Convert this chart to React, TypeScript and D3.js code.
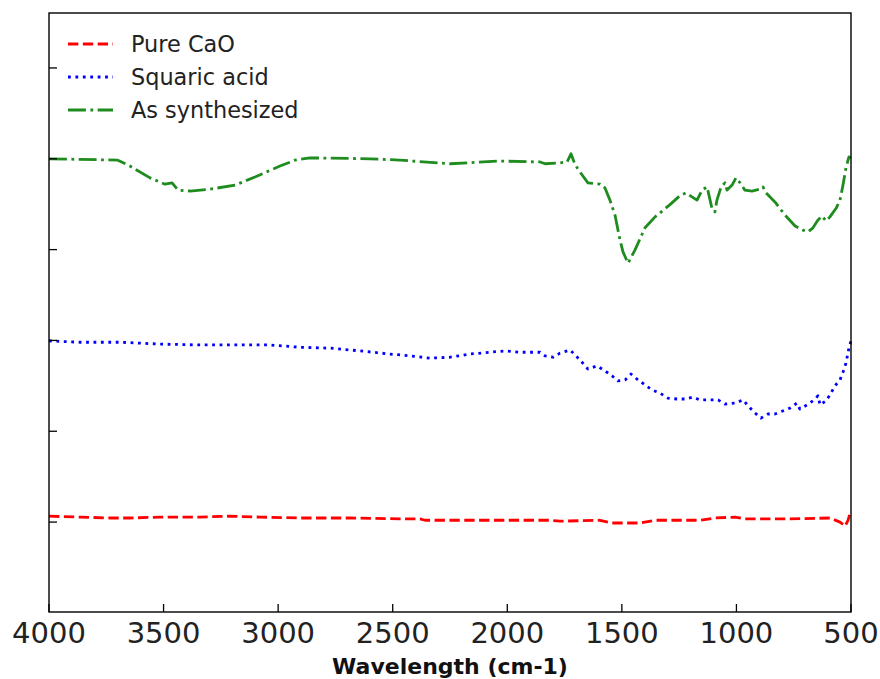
import React, { useEffect, useRef } from 'react';
import * as d3 from 'd3';

// Wavenumbers (cm-1) and relative transmittance
const greenWn = [4000, 3700, 3647, 3559, 3494, 3463, 3437, 3385, 3297, 3188, 3101, 2992, 2926, 2861, 2599, 2468, 2250, 2032, 1857, 1835, 1770, 1739, 1722, 1704, 1683, 1648, 1595, 1574, 1552, 1530, 1508, 1495, 1473, 1443, 1399, 1355, 1290, 1246, 1220, 1194, 1172, 1150, 1128, 1107, 1094, 1085, 1067, 1050, 1041, 1019, 1002, 984, 963, 932, 897, 884, 871, 832, 788, 744, 710, 688, 666, 644, 627, 609, 592, 565, 548, 535, 522, 509, 500];
const greenT = [80.0, 79.7, 78.4, 75.8, 74.4, 74.7, 73.1, 72.9, 73.3, 74.2, 76.0, 78.4, 79.7, 80.2, 80.0, 79.7, 78.9, 79.5, 79.3, 78.9, 79.1, 79.3, 81.1, 78.7, 77.1, 74.7, 74.4, 73.6, 70.9, 67.6, 62.1, 59.5, 57.0, 59.9, 64.8, 67.2, 69.9, 71.9, 72.5, 71.6, 70.9, 73.1, 73.8, 69.1, 68.3, 70.9, 73.8, 74.7, 73.1, 74.2, 75.8, 74.7, 73.1, 72.9, 73.3, 73.8, 72.5, 70.5, 67.6, 65.2, 64.3, 63.9, 64.8, 66.5, 67.4, 66.3, 67.2, 69.1, 70.9, 74.2, 78.0, 80.4, 80.2];

const blueWn = [4000, 3865, 3690, 3516, 3341, 3166, 3036, 2905, 2774, 2643, 2512, 2425, 2337, 2250, 2163, 2075, 2010, 1944, 1857, 1835, 1800, 1770, 1726, 1700, 1674, 1648, 1608, 1574, 1543, 1517, 1486, 1460, 1434, 1399, 1368, 1333, 1299, 1259, 1224, 1190, 1159, 1115, 1080, 1050, 1006, 971, 949, 923, 893, 862, 832, 801, 766, 736, 723, 692, 661, 644, 635, 609, 592, 570, 548, 535, 522, 509, 500];
const blueT = [39.9, 39.6, 39.6, 39.2, 39.0, 39.0, 39.0, 38.5, 38.3, 37.7, 37.0, 36.6, 36.1, 36.3, 37.0, 37.4, 37.7, 37.4, 37.4, 36.6, 36.3, 37.2, 37.9, 36.6, 35.2, 33.7, 34.4, 33.3, 32.2, 31.1, 31.3, 32.6, 31.5, 30.2, 29.1, 28.4, 27.3, 27.1, 27.1, 27.5, 26.9, 26.9, 26.9, 26.0, 26.2, 26.9, 25.6, 24.2, 22.9, 23.8, 23.8, 24.4, 25.1, 26.2, 24.9, 25.8, 26.9, 27.8, 25.8, 26.7, 28.0, 30.0, 31.3, 33.0, 35.0, 38.3, 39.9];

const redWn = [4000, 3865, 3734, 3647, 3516, 3341, 3210, 3079, 2905, 2686, 2468, 2381, 2359, 2163, 1944, 1814, 1770, 1595, 1543, 1464, 1421, 1355, 1159, 1094, 1006, 963, 766, 592, 548, 526, 513, 504, 500];
const redT = [1.3, 1.1, 0.9, 0.9, 1.1, 1.1, 1.3, 1.1, 0.9, 0.9, 0.7, 0.7, 0.4, 0.4, 0.4, 0.4, 0.2, 0.4, -0.2, -0.2, -0.2, 0.4, 0.4, 0.9, 1.1, 0.7, 0.7, 0.9, 0.0, -0.9, 0.4, 2.0, 1.8];

const xTicks = [4000, 3500, 3000, 2500, 2000, 1500, 1000, 500];
const yTicks = [0, 20, 40, 60, 80, 100];

const App = () => {
  const svgRef = useRef<SVGSVGElement | null>(null);

  useEffect(() => {
    const W = 880;
    const H = 679;
    const margin = { top: 13, right: 29, bottom: 67, left: 49 };
    const width = W - margin.left - margin.right;
    const height = H - margin.top - margin.bottom;

    const root = d3.select(svgRef.current);
    root.selectAll('*').remove();
    root.attr('width', W).attr('height', H);

    const svg = root.append('g')
      .attr('transform', `translate(${margin.left},${margin.top})`);

    const x = d3.scaleLinear().domain([4000, 500]).range([0, width]);
    const y = d3.scaleLinear().domain([-19.8, 112.1]).range([height, 0]);

    const lw = 2.8;
    const series = [
      { name: 'Pure CaO', wn: redWn, t: redT, color: '#ff0000', dash: `${3.7 * lw},${1.6 * lw}` },
      { name: 'Squaric acid', wn: blueWn, t: blueT, color: '#0000ff', dash: `${1 * lw},${1.65 * lw}` },
      { name: 'As synthesized', wn: greenWn, t: greenT, color: '#1e8c1e', dash: `${6.4 * lw},${1.6 * lw},${1 * lw},${1.6 * lw}` },
    ];

    const line = d3.line<[number, number]>()
      .x(d => x(d[0]))
      .y(d => y(d[1]));

    series.forEach(s => {
      const pts = s.wn.map((w, i) => [w, s.t[i]] as [number, number]);
      svg.append('path')
        .datum(pts)
        .attr('fill', 'none')
        .attr('stroke', s.color)
        .attr('stroke-width', lw)
        .attr('stroke-dasharray', s.dash)
        .attr('stroke-linejoin', 'round')
        .attr('d', line);
    });

    // X axis ticks (inward) and labels
    const xAxis = svg.append('g').attr('transform', `translate(0,${height})`);
    xAxis.selectAll('line')
      .data(xTicks)
      .enter()
      .append('line')
      .attr('x1', d => x(d))
      .attr('x2', d => x(d))
      .attr('y1', 0)
      .attr('y2', -8)
      .attr('stroke', 'black')
      .attr('stroke-width', 1.3);
    xAxis.selectAll('text')
      .data(xTicks)
      .enter()
      .append('text')
      .attr('x', d => x(d))
      .attr('y', 31)
      .attr('text-anchor', 'middle')
      .style('font-family', 'DejaVu Sans')
      .style('font-size', '29px')
      .style('fill', '#222')
      .text(d => String(d));

    // Y axis ticks (inward), no labels
    svg.append('g').selectAll('line')
      .data(yTicks)
      .enter()
      .append('line')
      .attr('x1', 0)
      .attr('x2', 8)
      .attr('y1', d => y(d))
      .attr('y2', d => y(d))
      .attr('stroke', 'black')
      .attr('stroke-width', 1.3);

    // Frame
    svg.append('rect')
      .attr('x', 0)
      .attr('y', 0)
      .attr('width', width)
      .attr('height', height)
      .attr('fill', 'none')
      .attr('stroke', 'black')
      .attr('stroke-width', 1.4);

    // X label
    svg.append('text')
      .attr('x', width / 2)
      .attr('y', height + 62)
      .attr('text-anchor', 'middle')
      .style('font-family', 'DejaVu Sans')
      .style('font-weight', 'bold')
      .style('font-size', '22px')
      .style('fill', '#111')
      .text('Wavelength (cm-1)');

    // Legend
    const legend = svg.append('g').attr('transform', 'translate(19,31)');
    series.forEach((s, i) => {
      const row = legend.append('g').attr('transform', `translate(0,${i * 33})`);
      row.append('line')
        .attr('x1', 0)
        .attr('x2', 45)
        .attr('y1', 0)
        .attr('y2', 0)
        .attr('stroke', s.color)
        .attr('stroke-width', lw)
        .attr('stroke-dasharray', s.dash);
      row.append('text')
        .attr('x', 63)
        .attr('y', 8)
        .style('font-family', 'DejaVu Sans')
        .style('font-size', '22.4px')
        .style('fill', '#222')
        .text(s.name);
    });
  }, []);

  return (
    <svg ref={svgRef} style={{ position: 'absolute', left: 0, top: 0 }}></svg>
  );
};

export default App;
